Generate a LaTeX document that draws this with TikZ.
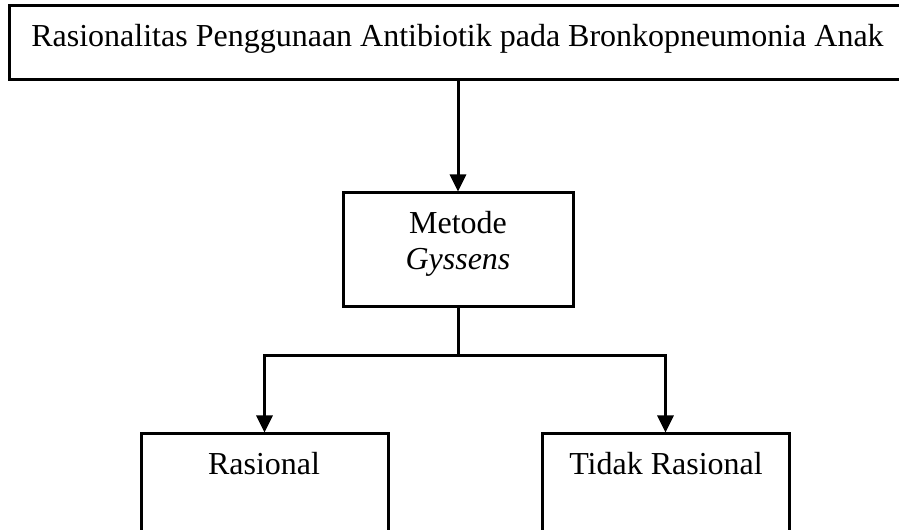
\documentclass[tikz,border=0pt]{standalone}
\usepackage{fontspec}
\setmainfont{Liberation Serif}
\usepackage{tikz}
\usetikzlibrary{arrows.meta,positioning}
\tikzstyle{arrow} = [line width=1.2pt,-{Triangle[length=6.8pt,width=6.4pt]}]
\tikzstyle{panel} = [rectangle, draw, line width=1.2pt, inner sep=0pt]

\begin{document}
\begin{tikzpicture}[x=0.4pt, y=-0.4pt, font=\fontsize{12.8}{15.4}\selectfont]
    \useasboundingbox (0,0) rectangle (899,530);
    \clip (0,0) rectangle (899,530);

    % Judul
    \node[panel, minimum width=358pt, minimum height=29.6pt] (judul) at (457.5, 43) {};
    \node[anchor=base] (judultext) at (457.5, 47) {Rasionalitas Penggunaan Antibiotik pada Bronkopneumonia Anak};

    % Metode
    \node[panel, minimum width=92pt, minimum height=45.6pt] (metode) at (458, 250) {};
    \node[anchor=base] (metode1) at (458, 234) {Metode};
    \node[anchor=base] (metode2) at (458, 270) {\itshape Gyssens};

    % Hasil
    \node[panel, minimum width=98.8pt, minimum height=44pt] (rasional) at (264.5, 489) {};
    \node[anchor=base] (rasionaltext) at (264, 475) {Rasional};
    \node[panel, minimum width=98.8pt, minimum height=44pt] (tidak) at (665.5, 489) {};
    \node[anchor=base] (tidaktext) at (666, 475) {Tidak Rasional};

    % Panah
    \draw[arrow] (judul.south -| metode.north) -- (metode.north);
    \coordinate (cabang) at (458, 356);
    \draw[line width=1.2pt] (metode.south) -- (cabang);
    \draw[arrow] (cabang) -| (rasional.north);
    \draw[arrow] (cabang) -| (tidak.north);
\end{tikzpicture}
\end{document}
